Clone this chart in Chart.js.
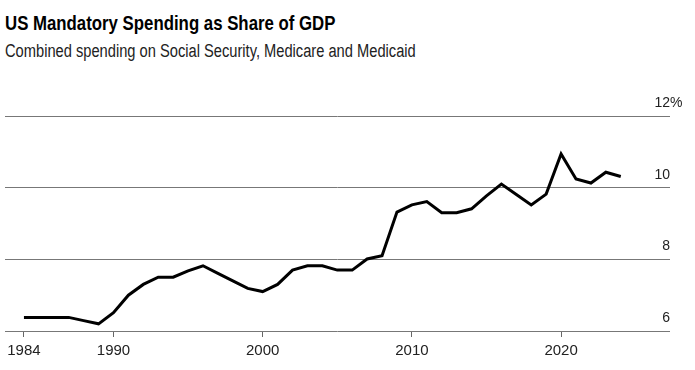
<!DOCTYPE html>
<html>
<head>
<meta charset="utf-8">
<script src="https://cdn.jsdelivr.net/npm/chart.js@4"></script>
<style>
  html, body { margin: 0; padding: 0; background: #fff; }
  #wrap { position: relative; width: 695px; height: 370px; font-family: "Liberation Sans", Arial, sans-serif; color: #000; }
  #title { position: absolute; left: 5px; top: 12px; font-size: 21px; line-height: 21px; font-weight: bold; white-space: nowrap; transform: scaleX(0.80); transform-origin: 0 0; }
  #subtitle { position: absolute; left: 5px; top: 42px; font-size: 18px; line-height: 18px; color: #222; white-space: nowrap; transform: scaleX(0.815); transform-origin: 0 0; }
  canvas { position: absolute; left: 0; top: 0; }
</style>
</head>
<body>
<div id="wrap">
  <div id="title">US Mandatory Spending as Share of GDP</div>
  <div id="subtitle">Combined spending on Social Security, Medicare and Medicaid</div>
  <canvas id="chart" width="695" height="370"></canvas>
</div>
<script>
  // Data
  var years = [1984, 1985, 1986, 1987, 1988, 1989, 1990, 1991, 1992, 1993,
               1994, 1995, 1996, 1997, 1998, 1999, 2000, 2001, 2002, 2003,
               2004, 2005, 2006, 2007, 2008, 2009, 2010, 2011, 2012, 2013,
               2014, 2015, 2016, 2017, 2018, 2019, 2020, 2021, 2022, 2023, 2024];
  var share = [6.38, 6.38, 6.38, 6.38, 6.29, 6.20, 6.51, 7.00, 7.30, 7.50,
               7.50, 7.68, 7.82, 7.61, 7.40, 7.19, 7.10, 7.30, 7.70, 7.82,
               7.82, 7.70, 7.70, 8.01, 8.10, 9.32, 9.52, 9.61, 9.30, 9.30,
               9.41, 9.77, 10.10, 9.81, 9.52, 9.82, 10.94, 10.24, 10.13, 10.43, 10.31];
  var xTicks = [1984, 1990, 2000, 2010, 2020];
  var yTicks = [6, 8, 10, 12];
  var yTickLabels = ["6", "8", "10", "12"];

  var points = years.map(function (y, i) { return { x: y, y: share[i] }; });

  // Right-hand value labels, sitting above each gridline
  var yLabels = {
    id: "yLabels",
    afterDraw: function (chart) {
      var ctx = chart.ctx;
      var ys = chart.scales.y;
      ctx.save();
      ctx.font = "14px 'Liberation Sans', Arial, sans-serif";
      ctx.fillStyle = "#222";
      ctx.textBaseline = "alphabetic";
      yTicks.forEach(function (v, i) {
        var py = ys.getPixelForValue(v) - 9;
        ctx.textAlign = "right";
        ctx.fillText(yTickLabels[i], 670, py);
        if (i === yTicks.length - 1) {
          ctx.textAlign = "left";
          ctx.fillText("%", 670, py);
        }
      });
      ctx.restore();
    }
  };

  new Chart(document.getElementById("chart"), {
    type: "line",
    data: {
      datasets: [{
        data: points,
        borderColor: "#000",
        borderWidth: 3,
        pointRadius: 0,
        tension: 0,
        borderJoinStyle: "miter"
      }]
    },
    options: {
      responsive: false,
      animation: false,
      layout: { padding: { left: 5, right: 25, top: 116, bottom: 0 } },
      plugins: { legend: { display: false }, tooltip: { enabled: false } },
      scales: {
        x: {
          type: "linear",
          min: 1982.73,
          max: 2027.3,
          afterBuildTicks: function (axis) {
            axis.ticks = xTicks.map(function (v) { return { value: v }; });
          },
          afterFit: function (axis) { axis.height = 39; },
          border: { display: false },
          grid: { drawOnChartArea: false, drawTicks: true, tickLength: 6, color: "#666", lineWidth: 1 },
          ticks: {
            padding: 5,
            maxRotation: 0,
            autoSkip: false,
            color: "#222",
            font: { family: "'Liberation Sans', Arial, sans-serif", size: 15 },
            callback: function (v) { return String(v); }
          }
        },
        y: {
          min: 6,
          max: 12,
          display: true,
          afterBuildTicks: function (axis) {
            axis.ticks = yTicks.map(function (v) { return { value: v }; });
          },
          afterFit: function (axis) { axis.width = 0; },
          border: { display: false },
          grid: { drawTicks: false, color: "#777", lineWidth: 1 },
          ticks: { display: false }
        }
      }
    },
    plugins: [yLabels]
  });
</script>
</body>
</html>
